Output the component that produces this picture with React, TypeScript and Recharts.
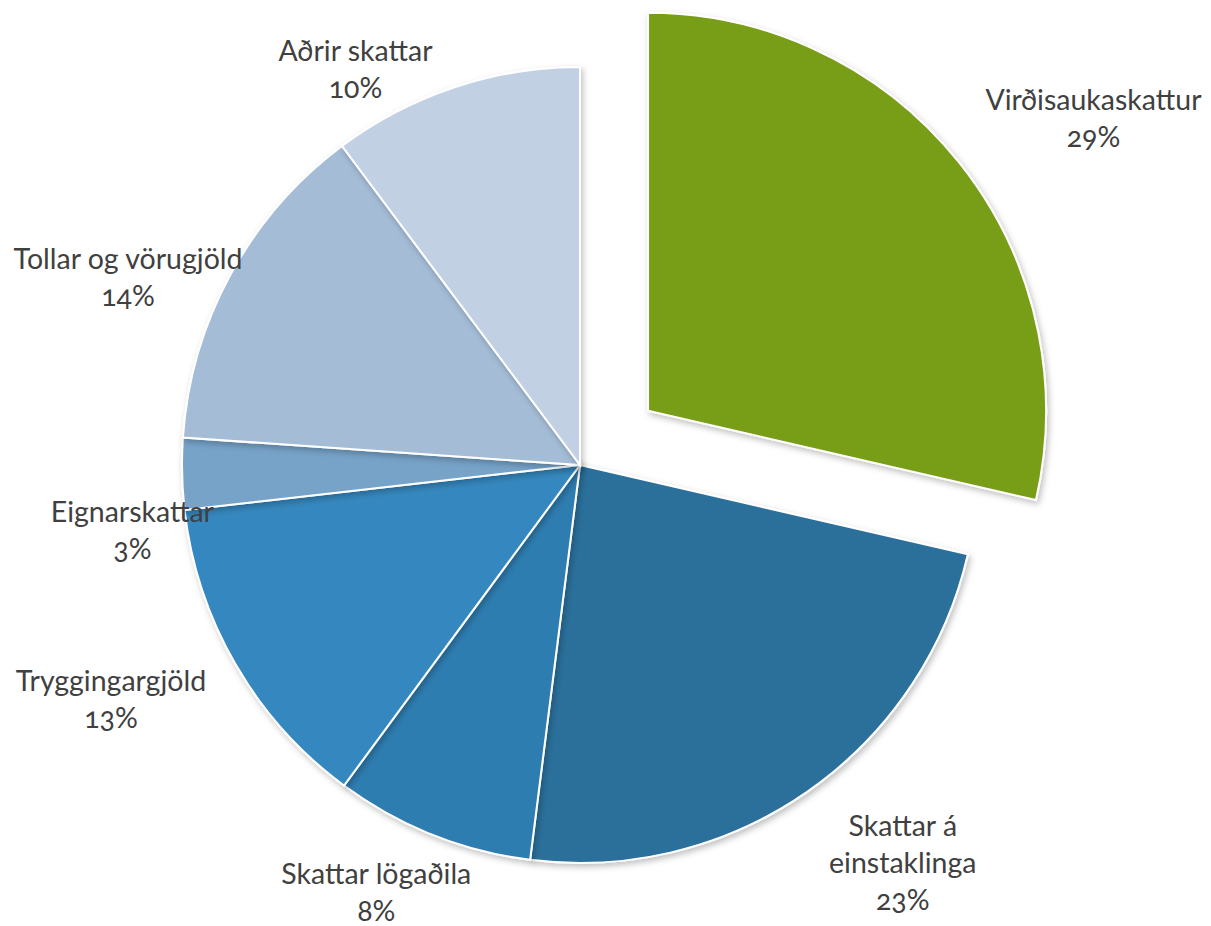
import React from "react";
import { PieChart, Pie, Cell } from "recharts";

if (typeof document !== "undefined") {
  document.body.style.margin = "0";
}

// ---- data ----
const categories = [
  "Virðisaukaskattur",
  "Skattar á einstaklinga",
  "Skattar lögaðila",
  "Tryggingargjöld",
  "Eignarskattar",
  "Tollar og vörugjöld",
  "Aðrir skattar",
];
const shares = [28.6, 23.4, 8.1, 13.1, 2.9, 13.7, 10.2];

// ---- style / layout ----
const colors = ["#789D15", "#2A6F9B", "#2E7DB1", "#3688BF", "#77A3C9", "#A4BCD6", "#C1D1E3"];
const labelNudge: [number, number][] = [
  [38, -16],
  [44, 20],
  [-13, 17],
  [-30, 13],
  [46, 56],
  [17, 25],
  [-69, 25],
];

const W = 1211;
const H = 926;
const CX = 580;
const CY = 465;
const R = 398;
const EXPLODE = 87;
const FONT = 28.5;
const EST = 27;
const LINE_H = 37;

const data = categories.map((name, i) => ({ name, value: shares[i] }));
const total = shares.reduce((a, b) => a + b, 0);
const RAD = Math.PI / 180;
const midFirst = 90 - (360 * shares[0]) / 2 / total;
const cx2 = CX + EXPLODE * Math.cos(midFirst * RAD);
const cy2 = CY - EXPLODE * Math.sin(midFirst * RAD);

function wrap(name: string, maxChars = 19): string[] {
  const words = name.split(" ");
  const lines: string[] = [];
  let cur = "";
  for (const w of words) {
    const next = cur ? cur + " " + w : w;
    if (next.length > maxChars && cur) {
      lines.push(cur);
      cur = w;
    } else cur = next;
  }
  if (cur) lines.push(cur);
  return lines;
}

const makeLabel = (show: (i: number) => boolean) => (props: any) => {
  const { cx, cy, midAngle, outerRadius, percent, index } = props;
  if (!show(index)) return null;
  const name = categories[index];
  const lines = [...wrap(name), `${Math.round(percent * 100)}%`];
  const maxLen = Math.max(...lines.map((l) => l.length));
  const hw = maxLen * EST * 0.25;
  const hh = (lines.length * LINE_H) / 2;
  const dx = Math.cos(midAngle * RAD);
  const dy = -Math.sin(midAngle * RAD);
  const gap = 8;
  const bx = cx + (outerRadius + gap) * dx + hw * dx + labelNudge[index][0];
  const by = cy + (outerRadius + gap) * dy + hh * dy + labelNudge[index][1];
  const top = by - hh + LINE_H / 2 + EST * 0.35;
  return (
    <text
      key={`lbl-${index}`}
      x={bx}
      y={top}
      textAnchor="middle"
      fill="#404040"
      fontFamily="Lato, 'Open Sans', sans-serif"
      fontSize={FONT}
      style={{ fontVariantNumeric: "oldstyle-nums" }}
    >
      {lines.map((l, j) => (
        <tspan key={j} x={bx} y={top + j * LINE_H}>
          {l}
        </tspan>
      ))}
    </text>
  );
};

export default function App() {
  return (
    <div style={{ width: W, height: H, background: "#fff" }}>
      <PieChart width={W} height={H} margin={{ top: 0, right: 0, bottom: 0, left: 0 }}>
        <defs>
          <filter id="shadow" x="-10%" y="-10%" width="120%" height="120%">
            <feDropShadow dx="2" dy="3" stdDeviation="3" floodColor="#000" floodOpacity="0.25" />
          </filter>
        </defs>
        <Pie
          data={data}
          dataKey="value"
          nameKey="name"
          cx={CX}
          cy={CY}
          outerRadius={R}
          startAngle={90}
          endAngle={-270}
          isAnimationActive={false}
          stroke="#ffffff"
          strokeWidth={2}
          labelLine={false}
          label={makeLabel((i) => i !== 0)}
          style={{ filter: "url(#shadow)" }}
        >
          {data.map((d, i) => (
            <Cell
              key={d.name}
              fill={i === 0 ? "none" : colors[i]}
              stroke={i === 0 ? "none" : "#ffffff"}
            />
          ))}
        </Pie>
        <Pie
          data={data}
          dataKey="value"
          nameKey="name"
          cx={cx2}
          cy={cy2}
          outerRadius={R}
          startAngle={90}
          endAngle={-270}
          isAnimationActive={false}
          stroke="#ffffff"
          strokeWidth={2}
          labelLine={false}
          label={makeLabel((i) => i === 0)}
          style={{ filter: "url(#shadow)" }}
        >
          {data.map((d, i) => (
            <Cell
              key={d.name}
              fill={i === 0 ? colors[i] : "none"}
              stroke={i === 0 ? "#ffffff" : "none"}
            />
          ))}
        </Pie>
      </PieChart>
    </div>
  );
}
